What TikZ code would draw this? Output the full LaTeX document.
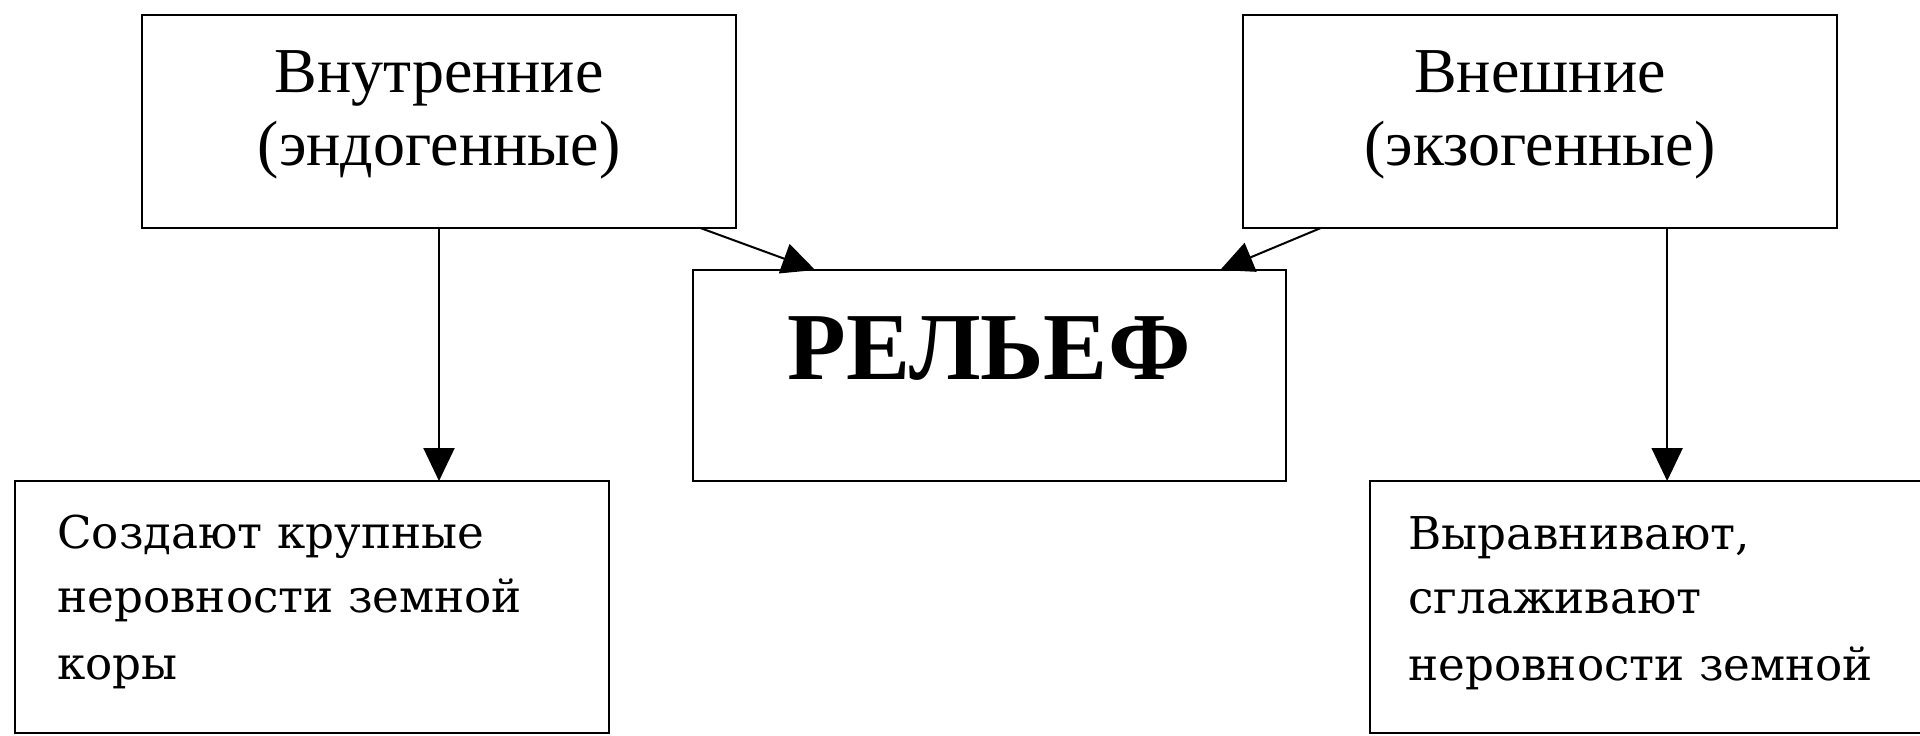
\documentclass[tikz,border=0pt]{standalone}
\usepackage{fontspec}
\setmainfont{Liberation Serif}
\newfontfamily\boxmono{DejaVu Serif}
\usetikzlibrary{arrows.meta,calc}
\begin{document}
\begin{tikzpicture}[x=0.5pt,y=-0.5pt,
  box/.style={draw,line width=1.2pt,inner sep=0pt,outer sep=0pt,anchor=north west,fill=white},
  conn/.style={line width=1pt,-{Triangle[length=16.5pt,width=15.5pt]}},
  head/.style={inner sep=0pt,anchor=base,font=\fontsize{32pt}{36pt}\selectfont},
  mid/.style={inner sep=0pt,anchor=base,font=\fontsize{48pt}{54pt}\selectfont\bfseries},
  body/.style={inner sep=0pt,anchor=base west,font=\boxmono\fontsize{22.6pt}{26pt}\selectfont}]
\useasboundingbox (0,0) rectangle (1920,735);
\clip (0,0) rectangle (1920,735);
\fill[white] (0,0) rectangle (1920,735);
% boxes
\node[box,minimum width=297pt,minimum height=106.5pt] (tl) at (142,15) {};
\node[box,minimum width=297pt,minimum height=106.5pt] (tr) at (1243,15) {};
\node[box,minimum width=296.5pt,minimum height=105.5pt] (c) at (693,270) {};
\node[box,minimum width=297pt,minimum height=126pt] (bl) at (15,481) {};
\node[box,minimum width=297pt,minimum height=126pt] (br) at (1370,481) {};
% texts
\node[head] (tl1) at (439,92) {Внутренние};
\node[head] (tl2) at (439,165) {(эндогенные)};
\node[head] (tr1) at (1540,92) {Внешние};
\node[head] (tr2) at (1540,165) {(экзогенные)};
\node[mid] (ct) at (989,379) {РЕЛЬЕФ};
\node[body] (bl1) at (57,548) {Создают крупные};
\node[body] (bl2) at (57,612) {неровности земной};
\node[body] (bl3) at (57,679) {коры};
\node[body] (br1) at (1408,549) {Выравнивают,};
\node[body] (br2) at (1408,613) {сглаживают};
\node[body] (br3) at (1408,680) {неровности земной};
% connectors
\coordinate (tlx) at ($(tl.south west)!0.94!(tl.south east)$);
\coordinate (cl) at ($(c.north west)!0.206!(c.north east)$);
\coordinate (trx) at ($(tr.south west)!0.131!(tr.south east)$);
\coordinate (cr) at ($(c.north west)!0.889!(c.north east)$);
\coordinate (trv) at ($(tr.south west)!0.714!(tr.south east)$);
\draw[conn] (tl.south) -- (tl.south |- bl.north);
\draw[conn] (trv) -- (trv |- br.north);
\draw[conn] (tlx) -- (cl);
\draw[conn] (trx) -- (cr);
\end{tikzpicture}
\end{document}
